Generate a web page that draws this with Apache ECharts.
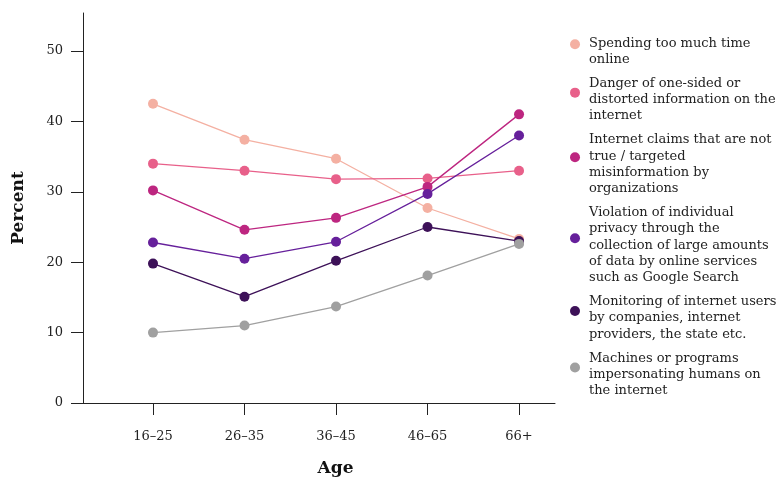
<!DOCTYPE html>
<html>
<head>
<meta charset="utf-8">
<script src="https://cdn.jsdelivr.net/npm/echarts@6/dist/echarts.min.js"></script>
<style>
html,body{margin:0;padding:0;background:#fff;}
#chart{width:780px;height:479px;}
</style>
</head>
<body>
<div id="chart"></div>
<script>
const categories = ['16–25', '26–35', '36–45', '46–65', '66+'];
const yTicks = [0, 10, 20, 30, 40, 50];

const seriesNames = [
  'Spending too much time online',
  'Danger of one-sided or distorted information on the internet',
  'Internet claims that are not true / targeted misinformation by organizations',
  'Violation of individual privacy through the collection of large amounts of data by online services such as Google Search',
  'Monitoring of internet users by companies, internet providers, the state etc.',
  'Machines or programs impersonating humans on the internet'
];
const legendLabels = [
  'Spending too much time\nonline',
  'Danger of one-sided or\ndistorted information on the\ninternet',
  'Internet claims that are not\ntrue / targeted\nmisinformation by\norganizations',
  'Violation of individual\nprivacy through the\ncollection of large amounts\nof data by online services\nsuch as Google Search',
  'Monitoring of internet users\nby companies, internet\nproviders, the state etc.',
  'Machines or programs\nimpersonating humans on\nthe internet'
];

const spending   = [42.5, 37.4, 34.7, 27.7, 23.3];
const danger     = [34.0, 33.0, 31.8, 31.9, 33.0];
const claims     = [30.2, 24.6, 26.3, 30.7, 41.0];
const privacy    = [22.8, 20.5, 22.9, 29.7, 38.0];
const monitoring = [19.8, 15.1, 20.2, 25.0, 23.0];
const machines   = [10.0, 11.0, 13.7, 18.1, 22.6];

const allValues = [spending, danger, claims, privacy, monitoring, machines];
const colors = ['#f4b0a2', '#e8608a', '#bd2680', '#66209b', '#3d1158', '#a0a0a0'];

const FONT = 'DejaVu Serif';
// legend marker: circle in the upper part of a taller, wider box
const LEGEND_ICON = 'path://M0,5 A5,5 0 1,1 10,5 A5,5 0 1,1 0,5 Z M14,24 L14,24';

const chart = echarts.init(document.getElementById('chart'), null, {renderer: 'canvas'});

const series = allValues.map((vals, si) => ({
  name: seriesNames[si],
  type: 'line',
  data: vals.map((v, i) => [i, v]),
  symbol: 'circle',
  symbolSize: 10,
  showSymbol: true,
  lineStyle: {width: 1.3, color: colors[si]},
  itemStyle: {color: colors[si]},
  emphasis: {disabled: true},
  z: 2 + si
}));

const labelMap = {};
seriesNames.forEach((n, i) => labelMap[n] = legendLabels[i]);

chart.setOption({
  animation: false,
  backgroundColor: '#fff',
  grid: {left: 83, top: 13, right: 225, bottom: 76, containLabel: false, outerBoundsMode: 'none'},
  xAxis: {
    type: 'value',
    min: -0.765,
    max: 4.393,
    name: 'Age',
    nameLocation: 'middle',
    nameGap: 57,
    nameTextStyle: {fontFamily: FONT, fontSize: 17, fontWeight: 'bold', color: '#111', padding: [0, 0, 0, 33]},
    axisLine: {show: true, onZero: false, lineStyle: {color: '#222', width: 1}},
    axisTick: {show: true, length: 12, customValues: [0, 1, 2, 3, 4], lineStyle: {color: '#222'}},
    axisLabel: {
      customValues: [0, 1, 2, 3, 4],
      formatter: v => categories[Math.round(v)],
      fontFamily: FONT, fontSize: 13, color: '#222', margin: 27
    },
    splitLine: {show: false}
  },
  yAxis: {
    type: 'value',
    min: 0,
    max: 55.4,
    name: 'Percent',
    nameLocation: 'middle',
    nameGap: 56,
    nameRotate: 90,
    nameTextStyle: {fontFamily: FONT, fontSize: 17, fontWeight: 'bold', color: '#111'},
    axisLine: {show: true, onZero: false, lineStyle: {color: '#222', width: 1}},
    axisTick: {show: true, length: 12, customValues: yTicks, lineStyle: {color: '#222'}},
    axisLabel: {customValues: yTicks, fontFamily: FONT, fontSize: 13, color: '#222', margin: 20},
    splitLine: {show: false}
  },
  legend: {
    orient: 'vertical',
    left: 565,
    top: 30,
    itemWidth: 14,
    itemHeight: 24,
    itemGap: 7.6,
    icon: LEGEND_ICON,
    selectedMode: false,
    data: seriesNames,
    formatter: n => labelMap[n],
    textStyle: {fontFamily: FONT, fontSize: 13, color: '#222', lineHeight: 16.3}
  },
  series: series
});
</script>
</body>
</html>
